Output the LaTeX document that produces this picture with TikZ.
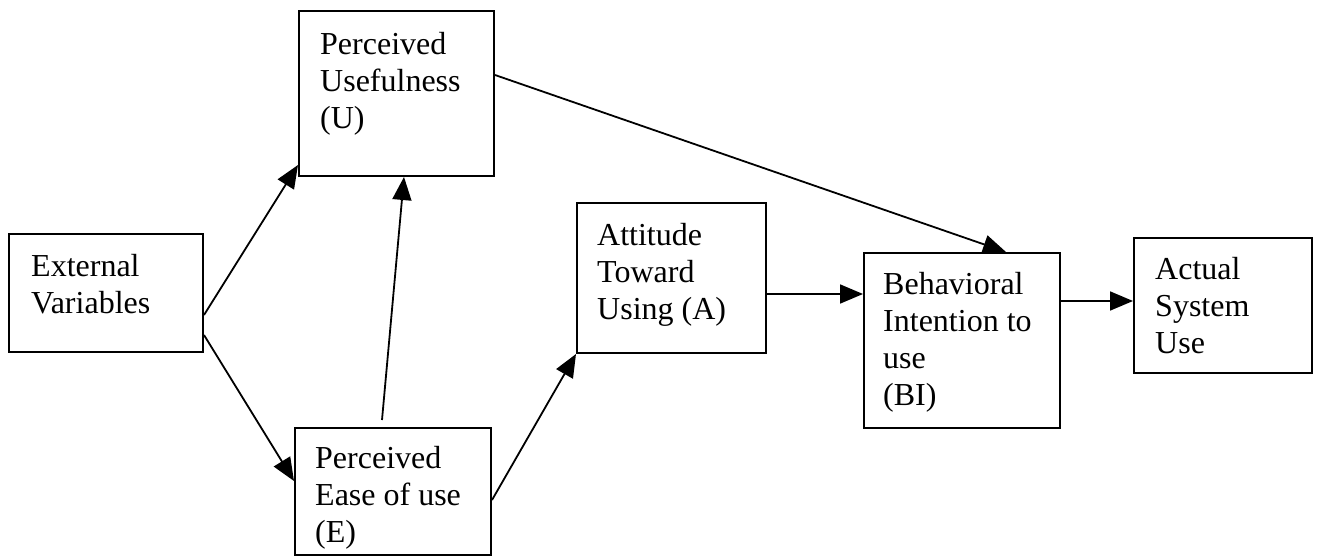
\documentclass[tikz,border=0pt]{standalone}
\usepackage{fontspec}
\setmainfont{Liberation Serif}
\usetikzlibrary{arrows.meta,calc}
\begin{document}
\begin{tikzpicture}[x=1pt,y=-1pt,
  box/.style={draw,line width=2pt,rectangle,inner sep=0pt,anchor=north west},
  txt/.style={anchor=north west,align=left,inner sep=0pt,font=\fontsize{32}{37}\selectfont},
  conn/.style={line width=1.8pt,-{Triangle[length=23pt,width=19pt]}}]
\useasboundingbox (0,0) rectangle (1317,556);
% boxes
\node[box,minimum width=194pt,minimum height=118pt] (Ext) at (8,233) {};
\node[box,minimum width=195pt,minimum height=165pt] (U) at (298,10) {};
\node[box,minimum width=196pt,minimum height=127pt] (E) at (294,427) {};
\node[box,minimum width=189pt,minimum height=150pt] (A) at (576,202) {};
\node[box,minimum width=196pt,minimum height=175pt] (BI) at (863,252) {};
\node[box,minimum width=178pt,minimum height=135pt] (Act) at (1133,237) {};
% texts
\node[txt] (tExt) at ($(Ext.north west)+(23,21)$) {External\\Variables};
\node[txt] (tU) at ($(U.north west)+(22,22)$) {Perceived\\Usefulness\\(U)};
\node[txt] (tE) at ($(E.north west)+(21,19)$) {Perceived\\Ease of use\\(E)};
\node[txt] (tA) at ($(A.north west)+(21,21)$) {Attitude\\Toward\\Using (A)};
\node[txt] (tBI) at ($(BI.north west)+(20,20)$) {Behavioral\\Intention to\\use\\(BI)};
\node[txt] (tAct) at ($(Act.north west)+(22,20)$) {Actual\\System\\Use};
% connectors
\draw[conn] ($(Ext.north east)+(0,82)$) -- ($(U.south west)+(0,-12)$);
\draw[conn] ($(Ext.north east)+(0,102)$) -- ($(E.north west)+(0,54)$);
\draw[conn] ($(E.north west)+(88,-7)$) -- ($(U.south west)+(106,0)$);
\draw[conn] ($(E.north east)+(0,73)$) -- (A.south west);
\draw[conn] ($(U.north east)+(0,65)$) -- ($(BI.north west)+(143,0)$);
\draw[conn] ($(A.north east)+(0,92)$) -- ($(BI.north west)+(0,42)$);
\draw[conn] ($(BI.north east)+(0,49)$) -- ($(Act.north west)+(0,64)$);
\end{tikzpicture}
\end{document}
